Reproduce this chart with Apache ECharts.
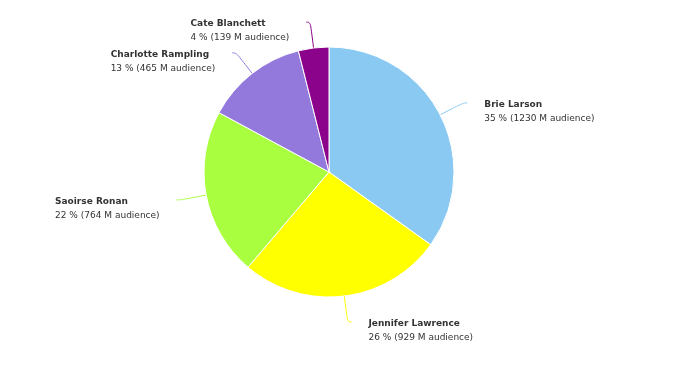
<!DOCTYPE html>
<html><head><meta charset="utf-8">
<script src="https://cdn.jsdelivr.net/npm/echarts@6/dist/echarts.min.js"></script>
<style>html,body{margin:0;padding:0;background:#fff}#c{width:689px;height:367px}</style>
</head><body><div id="c"></div>
<script>
const names = ['Brie Larson','Jennifer Lawrence','Saoirse Ronan','Charlotte Rampling','Cate Blanchett'];
const audience = [1230, 929, 764, 465, 139];
const colors = ['#8AC9F2','#FFFF00','#A9FF3F','#9479DD','#8B038B'];

const chart = echarts.init(document.getElementById('c'));
chart.setOption({
  animation: false,
  series: [{
    type: 'pie',
    center: [329, 172],
    radius: 125,
    startAngle: 90,
    clockwise: true,
    avoidLabelOverlap: false,
    data: names.map((n, i) => ({ name: n, value: audience[i], itemStyle: { color: colors[i] } })),
    itemStyle: { borderColor: '#fff', borderWidth: 1 },
    label: {
      show: true,
      formatter: p => '{n|' + p.name + '}\n{d|' + Math.round(p.percent) + ' % (' + p.value + ' M audience)}',
      rich: {
        n: { fontFamily: 'DejaVu Sans', fontSize: 9, fontWeight: 'bold', color: '#333', lineHeight: 14, align: 'left' },
        d: { fontFamily: 'DejaVu Sans', fontSize: 9, color: '#333', lineHeight: 14, align: 'left' }
      },
      padding: [17, 0, 0, 0],
      align: 'left',
      distanceToLabelLine: 17
    },
    labelLine: { show: true, length: 26, length2: 4, smooth: 0.5, lineStyle: { width: 1 } }
  }]
});
</script></body></html>
